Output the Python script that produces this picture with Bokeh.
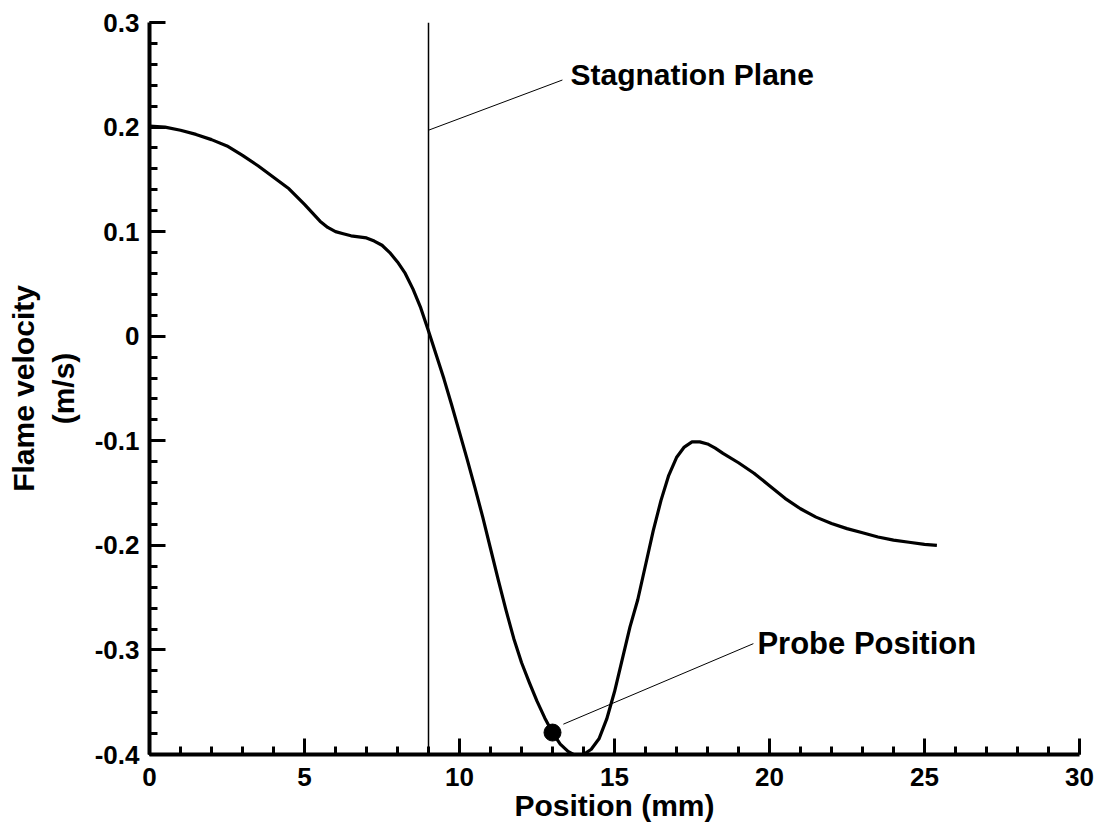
from bokeh.plotting import figure
from bokeh.models import Range1d, FixedTicker, CustomJSTickFormatter, Label, Span
from bokeh.embed import file_html
from bokeh.resources import INLINE

# ---- data ----
position_mm = [0.0, 0.5, 1.0, 1.5, 2.0, 2.5, 3.0, 3.5, 4.0, 4.5, 5.0, 5.5, 5.75,
               6.0, 6.25, 6.5, 6.75, 7.0, 7.25, 7.5, 7.75, 8.0, 8.25, 8.5, 8.75,
               9.0, 9.25, 9.5, 9.75, 10.0, 10.25, 10.5, 10.75, 11.0, 11.25, 11.5,
               11.75, 12.0, 12.25, 12.5, 12.75, 13.0, 13.25, 13.5, 13.75, 14.0,
               14.25, 14.5, 14.75, 15.0, 15.25, 15.5, 15.75, 16.0, 16.25, 16.5,
               16.75, 17.0, 17.25, 17.5, 17.75, 18.0, 18.25, 18.5, 19.0, 19.5,
               20.0, 20.5, 21.0, 21.5, 22.0, 22.5, 23.0, 23.5, 24.0, 24.5, 25.0,
               25.4]
flame_velocity = [0.201, 0.200, 0.197, 0.193, 0.188, 0.182, 0.173, 0.163, 0.152,
                  0.141, 0.126, 0.110, 0.104, 0.100, 0.098, 0.096, 0.095, 0.094,
                  0.091, 0.087, 0.080, 0.071, 0.060, 0.045, 0.027, 0.005, -0.018,
                  -0.041, -0.066, -0.092, -0.118, -0.145, -0.173, -0.203, -0.233,
                  -0.262, -0.289, -0.312, -0.331, -0.349, -0.365, -0.379, -0.390,
                  -0.397, -0.401, -0.400, -0.395, -0.385, -0.366, -0.340, -0.309,
                  -0.278, -0.252, -0.219, -0.186, -0.157, -0.133, -0.116, -0.106,
                  -0.101, -0.101, -0.103, -0.107, -0.112, -0.121, -0.131, -0.143,
                  -0.155, -0.165, -0.173, -0.179, -0.184, -0.188, -0.192, -0.195,
                  -0.197, -0.199, -0.200]

stagnation_x = 9.0
probe_x = [13.0]
probe_y = [-0.379]

x_ticks = [0, 5, 10, 15, 20, 25, 30]
x_labels = ["0", "5", "10", "15", "20", "25", "30"]
y_ticks = [-0.4, -0.3, -0.2, -0.1, 0.0, 0.1, 0.2, 0.3]
y_labels = ["-0.4", "-0.3", "-0.2", "-0.1", "0", "0.1", "0.2", "0.3"]
x_minor = list(range(0, 31))
y_minor = [round(-0.4 + 0.02 * i, 2) for i in range(36)]

# annotation anchors (data coordinates)
stag_leader_x = [9.0, 13.32]
stag_leader_y = [0.197, 0.245]
stag_text_xy = (13.58, 0.250)
probe_leader_x = [13.35, 19.48]
probe_leader_y = [-0.371, -0.294]
probe_text_xy = (19.61, -0.294)

FONT = "Liberation Sans"

p = figure(width=1099, height=833, output_backend="svg", toolbar_location=None,
           x_range=Range1d(0, 30), y_range=Range1d(-0.4, 0.3),
           min_border_left=149, min_border_right=20, min_border_top=22,
           min_border_bottom=79)
p.outline_line_color = None
p.xgrid.visible = False
p.ygrid.visible = False
p.background_fill_color = "white"
p.border_fill_color = "white"

JS = """
const i = tvals.findIndex(t => Math.abs(t - tick) < 1e-9);
return i >= 0 ? tlabels[i] : '';
"""
fmt_x = CustomJSTickFormatter(args=dict(tvals=x_ticks, tlabels=x_labels), code=JS)
fmt_y = CustomJSTickFormatter(args=dict(tvals=y_ticks, tlabels=y_labels), code=JS)

p.xaxis.ticker = FixedTicker(ticks=x_ticks, minor_ticks=x_minor)
p.yaxis.ticker = FixedTicker(ticks=y_ticks, minor_ticks=y_minor)
p.xaxis.formatter = fmt_x
p.yaxis.formatter = fmt_y

for ax in (p.xaxis[0], p.yaxis[0]):
    ax.axis_line_width = 4
    ax.axis_line_color = "black"
    ax.major_tick_in = 16
    ax.major_tick_out = 0
    ax.minor_tick_in = 8
    ax.minor_tick_out = 0
    ax.major_tick_line_width = 3
    ax.minor_tick_line_width = 3
    ax.major_tick_line_color = "black"
    ax.minor_tick_line_color = "black"
    ax.major_label_text_font = FONT
    ax.major_label_text_font_size = "26px"
    ax.major_label_text_font_style = "bold"
    ax.major_label_text_color = "black"
    ax.axis_label_text_font = FONT
    ax.axis_label_text_font_size = "30px"
    ax.axis_label_text_font_style = "bold"
    ax.axis_label_text_color = "black"

p.xaxis.axis_label = "Position (mm)"
p.xaxis.major_label_standoff = 13
p.xaxis.axis_label_standoff = 0
p.yaxis.axis_label = "Flame velocity\n(m/s)"
p.yaxis.major_label_standoff = 10
p.yaxis.axis_label_standoff = 12

# curve
p.line(position_mm, flame_velocity, line_color="black", line_width=3.2,
       line_join="round")

# stagnation plane
p.add_layout(Span(location=stagnation_x, dimension="height", line_color="black",
                  line_width=1.5))

# leader lines
p.line(stag_leader_x, stag_leader_y, line_color="black", line_width=1)
p.line(probe_leader_x, probe_leader_y, line_color="black", line_width=1)

# probe point
p.scatter(probe_x, probe_y, size=17, color="black")

p.add_layout(Label(x=stag_text_xy[0], y=stag_text_xy[1], text="Stagnation Plane",
                   text_font=FONT, text_font_size="30px", text_font_style="bold",
                   text_color="black", text_baseline="alphabetic"))
p.add_layout(Label(x=probe_text_xy[0], y=probe_text_xy[1], text="Probe Position",
                   text_font=FONT, text_font_size="31px", text_font_style="bold",
                   text_color="black", text_baseline="alphabetic"))

open("out.html", "w").write(file_html(p, INLINE))
